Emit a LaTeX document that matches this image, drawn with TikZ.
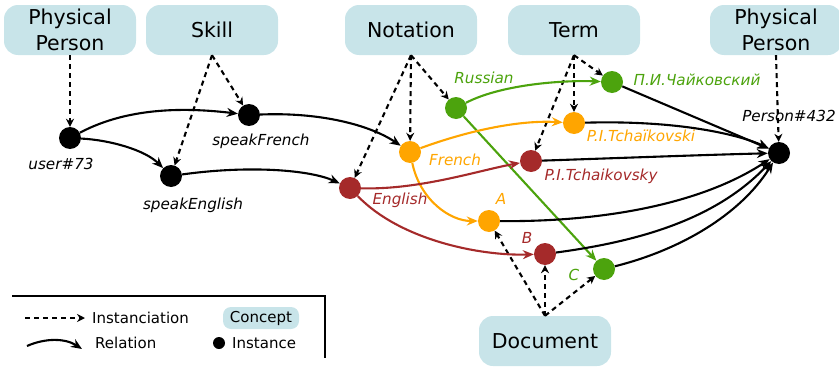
\documentclass[tikz,border=0pt]{standalone}
\usepackage{fontspec}
\setmainfont{DejaVu Sans}
\usetikzlibrary{arrows.meta}
\definecolor{conceptfill}{RGB}{200,228,233}
\definecolor{ggreen}{RGB}{76,163,13}
\definecolor{gorange}{RGB}{255,165,0}
\definecolor{gred}{RGB}{165,42,42}
\tikzset{
  concept/.style={fill=conceptfill, rounded corners=14pt, minimum width=132pt, minimum height=50pt, align=center, font=\fontsize{20.5}{26}\selectfont, inner sep=0pt},
  inst/.style={circle, minimum size=22pt, inner sep=0pt},
  lbl/.style={font=\fontsize{15.2}{17}\selectfont\itshape, inner sep=0pt},
  rel/.style={line width=2.1pt, -{Stealth[length=11pt,width=9pt]}},
  insta/.style={line width=2.1pt, dash pattern=on 5pt off 4pt, -{Stealth[length=8pt,width=8pt]}},
  legtext/.style={font=\fontsize{15}{17}\selectfont, anchor=west, inner sep=0pt}
}
\begin{document}
\begin{tikzpicture}[x=1pt,y=-1pt]
\useasboundingbox (0,0) rectangle (839,367);
% concepts
\node[concept] (ppl) at (70,30) {Physical\\Person};
\node[concept] (skill) at (212,30) {Skill};
\node[concept] (notation) at (411,30) {Notation};
\node[concept] (term) at (574,30) {Term};
\node[concept] (ppr) at (776,30) {Physical\\Person};
\node[concept] (doc) at (545,341) {Document};
% instances
\node[inst, fill=black] (user) at (70,138) {};
\node[inst, fill=black] (sF) at (249,115) {};
\node[inst, fill=black] (sE) at (171,176) {};
\node[inst, fill=gorange] (fr) at (410,152) {};
\node[inst, fill=gred] (en) at (350,188) {};
\node[inst, fill=ggreen] (ru) at (456,108) {};
\node[inst, fill=ggreen] (tru) at (612,82) {};
\node[inst, fill=gorange] (tfr) at (574,123) {};
\node[inst, fill=gred] (ten) at (531,161) {};
\node[inst, fill=gorange] (dA) at (489,221) {};
\node[inst, fill=gred] (dB) at (545,254) {};
\node[inst, fill=ggreen] (dC) at (604,269) {};
\node[inst, fill=black] (person) at (779,153) {};
% labels
\node[lbl] (luser) at (61,164) {user\#73};
\node[lbl] (lsF) at (261,141) {speakFrench};
\node[lbl] (lsE) at (193,205) {speakEnglish};
\node[lbl, text=ggreen] (lru) at (484,78) {Russian};
\node[lbl, text=gorange] (lfr) at (455,160) {French};
\node[lbl, text=gred] (len) at (400,200) {English};
\node[lbl, text=ggreen] (ltru) at (697,80) {П.И.Чайковский};
\node[lbl, text=gorange] (ltfr) at (641,136) {P.I.Tchaïkovski};
\node[lbl, text=gred] (lten) at (601,176) {P.I.Tchaikovsky};
\node[lbl, text=gorange] (lA) at (501,199) {A};
\node[lbl, text=gred] (lB) at (527,238) {B};
\node[lbl, text=ggreen] (lC) at (574,275) {C};
\node[lbl] (lperson) at (789,116) {Person\#432};
% instanciation
\draw[insta] (ppl.south) -- (user);
\draw[insta] (skill.south) -- (sF);
\draw[insta] (skill.south) -- (sE);
\draw[insta] (notation.south) -- (en);
\draw[insta] (notation.south) -- (fr);
\draw[insta] (notation.south) -- (ru);
\draw[insta] (term.south) -- (ten);
\draw[insta] (term.south) -- (tfr);
\draw[insta] (term.south) -- (tru);
\draw[insta] (ppr.south) -- (person);
\draw[insta] (doc.north) -- (dA);
\draw[insta] (doc.north) -- (dB);
\draw[insta] (doc.north) -- (dC);
% relations
\draw[rel] (user) .. controls (130,106) and (190,108) .. (sF);
\draw[rel] (user) .. controls (110,140) and (145,150) .. (sE);
\draw[rel] (sF) .. controls (320,112) and (370,125) .. (fr);
\draw[rel] (sE) .. controls (250,165) and (310,170) .. (en);
\draw[rel, ggreen] (ru) .. controls (500,85) and (560,80) .. (tru);
\draw[rel, ggreen] (ru) -- (dC);
\draw[rel, gorange] (fr) .. controls (470,130) and (520,120) .. (tfr);
\draw[rel, gorange] (fr) .. controls (420,200) and (450,221) .. (dA);
\draw[rel, gred] (en) .. controls (420,190) and (480,170) .. (ten);
\draw[rel, gred] (en) .. controls (400,240) and (480,256) .. (dB);
\draw[rel] (tru) -- (person);
\draw[rel] (tfr) .. controls (680,120) and (740,135) .. (person);
\draw[rel] (ten) .. controls (620,158) and (700,155) .. (person);
\draw[rel] (dA) .. controls (600,222) and (700,205) .. (person);
\draw[rel] (dB) .. controls (650,240) and (720,215) .. (person);
\draw[rel] (dC) .. controls (680,250) and (740,215) .. (person);
% legend
\draw[line width=2.5pt] (12,296) -- (325,296) -- (325,358);
\coordinate (ldA) at (25,318);
\coordinate (ldB) at (85,318);
\draw[insta] (ldA) -- (ldB);
\node[legtext] (tInst) at (92,318) {Instanciation};
\coordinate (lrA) at (27,346);
\coordinate (lrB) at (82,349);
\draw[rel] (lrA) .. controls (45,338) and (65,338) .. (lrB);
\node[legtext] (tRel) at (95,343) {Relation};
\node[fill=conceptfill, rounded corners=8pt, minimum width=76pt, minimum height=22pt, inner sep=0pt, font=\fontsize{15}{17}\selectfont] (lconc) at (261,318) {Concept};
\node[circle, fill=black, minimum size=12pt, inner sep=0pt] (ldot) at (219,343) {};
\node[legtext] (tInstance) at (232,343) {Instance};
\end{tikzpicture}
\end{document}
